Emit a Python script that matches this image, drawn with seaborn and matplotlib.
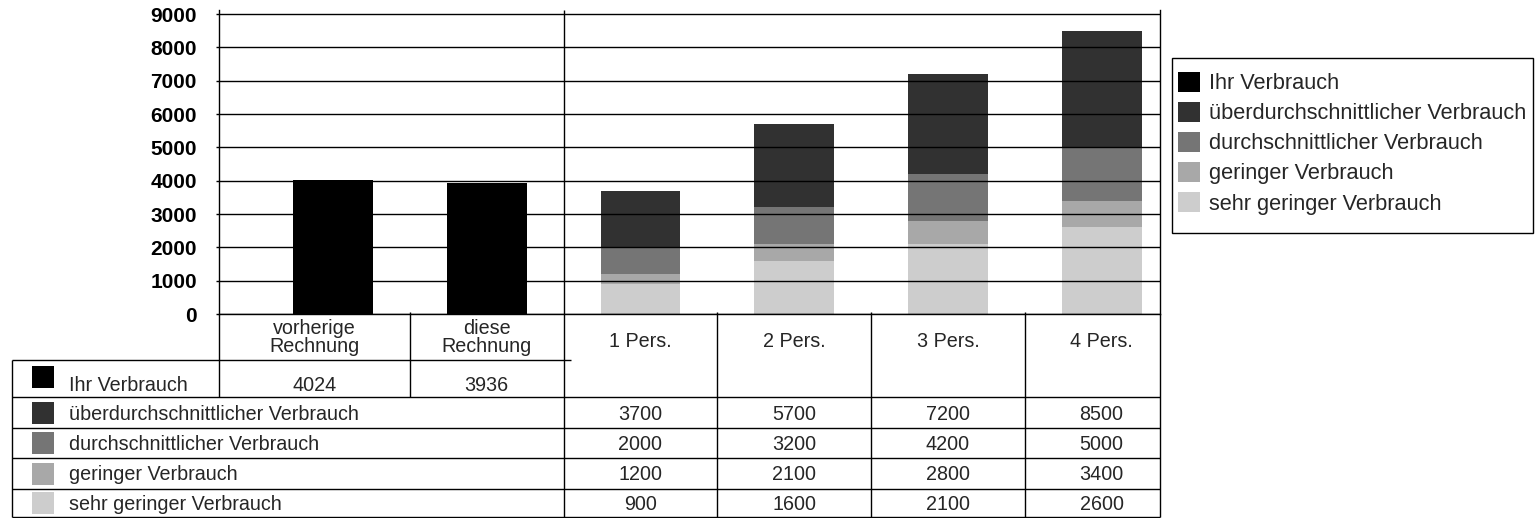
import matplotlib
matplotlib.use("Agg")
import matplotlib.pyplot as plt
from matplotlib.patches import Patch, Rectangle
from matplotlib.lines import Line2D
from matplotlib.transforms import Affine2D
import pandas as pd
import seaborn as sns

# ---------------------------------------------------------------- data
kategorien = ["vorherige\nRechnung", "diese\nRechnung",
              "1 Pers.", "2 Pers.", "3 Pers.", "4 Pers."]
rechnungen = kategorien[:2]
haushalte = kategorien[2:]

serien = ["Ihr Verbrauch",
          "überdurchschnittlicher Verbrauch",
          "durchschnittlicher Verbrauch",
          "geringer Verbrauch",
          "sehr geringer Verbrauch"]

ihr_verbrauch = [4024, 3936]
ueberdurchschnittlich = [3700, 5700, 7200, 8500]
durchschnittlich = [2000, 3200, 4200, 5000]
gering = [1200, 2100, 2800, 3400]
sehr_gering = [900, 1600, 2100, 2600]

y_ticks = [0, 1000, 2000, 3000, 4000, 5000, 6000, 7000, 8000, 9000]

farben = ["#000000", "#313131", "#757575", "#a8a8a8", "#cdcdcd"]

# long table for seaborn
zeilen = [(k, serien[0], v) for k, v in zip(rechnungen, ihr_verbrauch)]
for name, werte in zip(serien[1:], [ueberdurchschnittlich, durchschnittlich,
                                     gering, sehr_gering]):
    zeilen += [(k, name, v) for k, v in zip(haushalte, werte)]
df = pd.DataFrame(zeilen, columns=["Kategorie", "Serie", "Wert"])

# ---------------------------------------------------------------- figure
sns.set_style("white")
plt.rcParams["font.family"] = ["Liberation Sans", "DejaVu Sans"]
FS_TICK = 15
FS_TAB = 14.2
FS_LEG = 15.7

W, H = 1535, 518
fig = plt.figure(figsize=(W / 100, H / 100), dpi=100)
ax = fig.add_axes([219 / W, (H - 314) / H, 941 / W, 304 / H])

sns.barplot(data=df, x="Kategorie", y="Wert", hue="Serie",
            order=kategorien, hue_order=serien,
            palette=dict(zip(serien, farben)), dodge=False, width=0.52,
            errorbar=None, linewidth=0, legend=False, ax=ax)

ax.set_xlim(-0.742, 5.38)
ax.set_ylim(0, 9120)
ax.set_xlabel("")
ax.set_ylabel("")
ax.set_xticks([])
ax.set_yticks(y_ticks)
ax.set_yticklabels([str(t) for t in y_ticks], fontsize=FS_TICK,
                   fontweight="bold")
ax.tick_params(axis="y", length=2, width=1, pad=14, colors="black",
               direction="out", left=True)
ax.set_axisbelow(False)
ax.yaxis.grid(True, color="black", linewidth=1.0)
ax.xaxis.grid(False)
for side in ["left", "right", "bottom"]:
    ax.spines[side].set_visible(True)
    ax.spines[side].set_color("black")
    ax.spines[side].set_linewidth(1.0)
ax.spines["top"].set_visible(False)

# ---------------------------------------------------------------- table
PX = Affine2D().scale(1, -1).translate(0, H)   # pixels measured from top-left


def xpx(x):
    return ax.transData.transform((x, 0))[0]


def linie(xs, ys):
    fig.add_artist(Line2D(xs, ys, transform=PX, color="black", lw=1.0,
                          solid_capstyle="butt"))


x_tab = 12
x_ax0, x_ax1 = xpx(ax.get_xlim()[0]), xpx(ax.get_xlim()[1])
grenzen = [xpx(b) for b in (0.5, 1.5, 2.5, 3.5, 4.5)]

y_base, y_ihr, y_bottom = 314, 360, 516.5
y_zeilen = [397, 428, 458, 489]

# horizontal rules
linie([x_tab, grenzen[1] + 7], [y_ihr, y_ihr])
for y in y_zeilen:
    linie([x_tab, x_ax1], [y, y])
linie([x_tab, x_ax1], [y_bottom, y_bottom])

# vertical rules
linie([x_tab, x_tab], [y_ihr, y_bottom])
linie([x_ax0, x_ax0], [y_base, y_zeilen[0]])
linie([grenzen[0], grenzen[0]], [y_base - 2, y_zeilen[0]])
linie([grenzen[1], grenzen[1]], [10, y_bottom])
for g in grenzen[2:]:
    linie([g, g], [y_base - 2, y_bottom])
linie([x_ax1, x_ax1], [y_base, y_bottom])

# column headers
spalten_mitte = [(x_ax0 + grenzen[0]) / 2, (grenzen[0] + grenzen[1]) / 2] + \
                [xpx(i) for i in range(2, len(kategorien))]
for xm, label in zip(spalten_mitte, kategorien):
    teile = label.split("\n")
    if len(teile) == 2:
        for i, t in enumerate(teile):
            fig.text(xm, 334 + 18 * i, t, transform=PX, ha="center",
                     va="baseline", fontsize=FS_TAB)
    else:
        fig.text(xm, 347, label, transform=PX, ha="center", va="baseline",
                 fontsize=FS_TAB)

# row labels with colour keys
sq = 22
fig.add_artist(Rectangle((32, 366), sq, sq, transform=PX,
                         facecolor=farben[0], edgecolor="none"))
fig.text(69, 391, serien[0], transform=PX, ha="left", va="baseline",
         fontsize=FS_TAB)
for i, name in enumerate(serien[1:]):
    y0 = y_zeilen[i]
    y1 = y_zeilen[i + 1] if i + 1 < len(y_zeilen) else y_bottom
    ym = (y0 + y1) / 2
    fig.add_artist(Rectangle((32, ym - sq / 2), sq, sq, transform=PX,
                             facecolor=farben[i + 1], edgecolor="none"))
    fig.text(69, ym + 7, name, transform=PX, ha="left", va="baseline",
             fontsize=FS_TAB)

# values
for xm, v in zip(spalten_mitte[:2], ihr_verbrauch):
    fig.text(xm, 391, str(v), transform=PX, ha="center", va="baseline",
             fontsize=FS_TAB)
for i, werte in enumerate([ueberdurchschnittlich, durchschnittlich,
                           gering, sehr_gering]):
    y0 = y_zeilen[i]
    y1 = y_zeilen[i + 1] if i + 1 < len(y_zeilen) else y_bottom
    ym = (y0 + y1) / 2
    for xm, v in zip(spalten_mitte[2:], werte):
        fig.text(xm, ym + 7, str(v), transform=PX, ha="center",
                 va="baseline", fontsize=FS_TAB)

# ---------------------------------------------------------------- legend
handles = [Patch(facecolor=c, edgecolor="none") for c in farben]
fig.legend(handles, serien, loc="upper left",
           bbox_to_anchor=(1178 / W, 1 - 72 / H), bbox_transform=fig.transFigure,
           frameon=False, fontsize=FS_LEG, borderpad=0, borderaxespad=0,
           handlelength=1.0, handleheight=1.0, handletextpad=0.4,
           labelspacing=0.36)
fig.add_artist(Rectangle((1172, 58), 361, 175, transform=PX, fill=False,
                         edgecolor="black", lw=1.0))

fig.savefig("out.png", dpi=100)
